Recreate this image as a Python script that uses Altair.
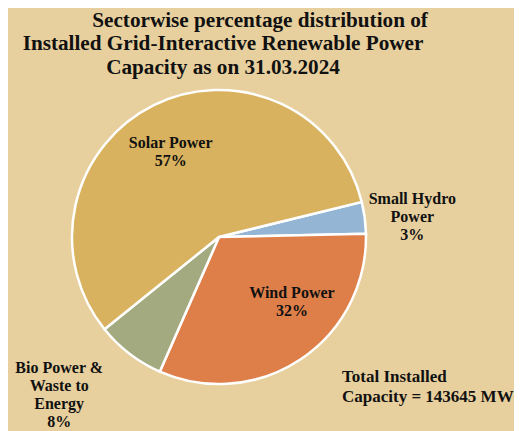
import math
import altair as alt
import pandas as pd

# ---- data ----
sectors = ["Small Hydro Power", "Wind Power", "Bio Power & Waste to Energy", "Solar Power"]
capacity_mw = [5003, 45887, 10942, 81813]
pct_labels = ["3%", "32%", "8%", "57%"]
label_lines = ["Small Hydro\nPower", "Wind Power", "Bio Power &\nWaste to\nEnergy", "Solar Power"]
title_lines = [
    "\u200b" + "\u00a0" * 14 + "Sectorwise percentage distribution of",
    "Installed Grid-Interactive Renewable Power",
    "Capacity as on 31.03.2024",
]

# ---- styles ----
colors = ["#94B5D3", "#DE7F4A", "#A3AA80", "#D8B25E"]
bg = "#E8D09E"
FONT = "Liberation Serif"
LH = 18

total = sum(capacity_mw)
df = pd.DataFrame({
    "sector": sectors,
    "mw": capacity_mw,
    "order": list(range(len(sectors))),
    "label": [f"{a}\n{b}" for a, b in zip(label_lines, pct_labels)],
})

start = math.radians(76.2)
theta_scale = alt.Scale(domain=[0, total], range=[start, start + 2 * math.pi])

base = (
    alt.Chart(df)
    .transform_window(cum="sum(mw)", sort=[{"field": "order"}], frame=[None, 0])
    .transform_calculate(start="datum.cum - datum.mw", mid="datum.cum - datum.mw / 2")
)

arcs = base.mark_arc(outerRadius=147, stroke="white", strokeWidth=2.5).encode(
    theta=alt.Theta("start:Q", stack=None, scale=theta_scale),
    theta2="cum:Q",
    color=alt.Color("sector:N", scale=alt.Scale(domain=sectors, range=colors), legend=None),
)

# label placement (radius, dx, dy) per sector; dy centres the multi-line block
placement = {
    "Small Hydro Power": (194, 1, 5),
    "Wind Power": (97, 19, -16),
    "Bio Power & Waste to Energy": (225, -23, -21),
    "Solar Power": (100, -4, 5),
}

layers = [arcs]
for sec, lab in zip(sectors, df["label"]):
    r, dx, dy = placement[sec]
    n_lines = lab.count("\n") + 1
    layers.append(
        base.transform_filter(alt.datum.sector == sec)
        .mark_text(
            radius=r, dx=dx, dy=dy - (n_lines - 1) * LH / 2, font=FONT, fontSize=16,
            fontWeight="bold", color="#111111", lineBreak="\n", lineHeight=LH,
            align="center", baseline="middle",
        )
        .encode(theta=alt.Theta("mid:Q", stack=None, scale=theta_scale), text="label:N")
    )

total_text = (
    alt.Chart(pd.DataFrame({"t": [f"Total Installed\nCapacity = {total} MW"]}))
    .mark_text(font=FONT, fontSize=17, fontWeight="bold", color="#111111", lineBreak="\n",
               lineHeight=20, align="left", baseline="middle")
    .encode(text="t:N", x=alt.value(334), y=alt.value(334))
)
layers.append(total_text)

chart = (
    alt.layer(*layers)
    .properties(
        width=422,
        height=388,
        padding={"left": 0, "top": 35, "right": 84, "bottom": 0},
        autosize=alt.AutoSizeParams(type="none"),
        background=bg,
        title=alt.TitleParams(
            text=title_lines, font=FONT, fontSize=21.2, fontWeight="bold", color="#111111",
            anchor="middle", frame="group", lineHeight=23.5, dx=4, offset=-35,
        ),
    )
    .configure_view(stroke=None)
)

chart.save("out.html", embed_options={"renderer": "svg", "actions": False})
